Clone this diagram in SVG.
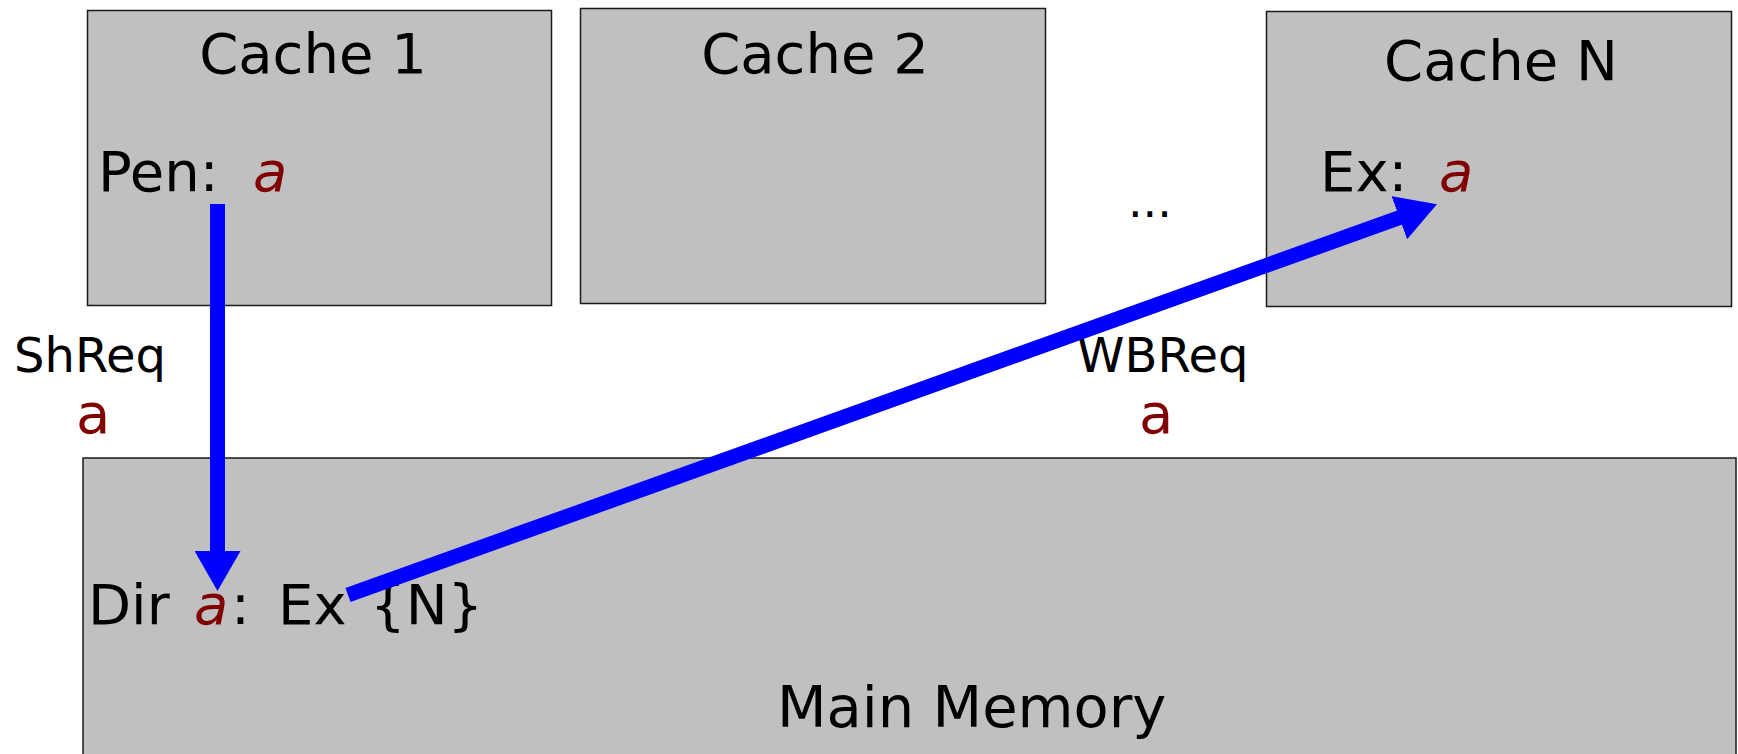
<svg xmlns="http://www.w3.org/2000/svg" width="1738" height="754" viewBox="0 0 1738 754">
<style>
.box{fill:#c0c0c0;stroke:#1a1a1a;stroke-width:1.5}
.t{font-family:"DejaVu Sans",sans-serif;fill:#000}
.big{font-size:56px}
.lbl{font-size:48px}
.red{fill:#800000}
.it{font-style:italic}
.conn{stroke:#0000ff;stroke-width:15;fill:none}
</style>
<defs>
<marker id="ah" markerUnits="userSpaceOnUse" markerWidth="40" markerHeight="46" viewBox="0 0 40 46" refX="5" refY="23" orient="auto">
<path d="M0,0 L40,23 L0,46 Z" fill="#0000ff"/>
</marker>
</defs>
<rect width="1738" height="754" fill="#ffffff"/>
<g id="cache1">
<rect class="box" x="87.5" y="10.5" width="464" height="295"/>
<text class="t big" x="313" y="73" text-anchor="middle">Cache 1</text>
<text class="t big" x="98" y="191">Pen:</text>
<text class="t big red it" x="253" y="191">a</text>
</g>
<g id="cache2">
<rect class="box" x="580.5" y="8.5" width="465" height="295"/>
<text class="t big" x="815" y="73" text-anchor="middle">Cache 2</text>
</g>
<g id="cacheN">
<rect class="box" x="1266.5" y="11.5" width="465" height="295"/>
<text class="t big" x="1501" y="80" text-anchor="middle">Cache N</text>
<text class="t big" x="1320" y="191">Ex:</text>
<text class="t big red it" x="1439" y="191">a</text>
</g>
<g id="dots">
<text class="t" style="font-size:46px" x="1128" y="217">...</text>
</g>
<g id="memory">
<rect class="box" x="83" y="458" width="1653" height="310"/>
<text class="t big" x="88" y="624">Dir</text>
<text class="t big red it" x="194" y="624">a</text>
<text class="t big" x="231" y="624">:</text>
<text class="t big" x="278" y="624">Ex</text>
<text class="t big" x="370" y="624">{N}</text>
<text class="t" style="font-size:57.5px" x="777" y="727">Main Memory</text>
</g>
<g id="labels">
<text class="t lbl" x="14" y="372">ShReq</text>
<text class="t big red" x="76" y="433">a</text>
<text class="t lbl" x="1077" y="372">WBReq</text>
<text class="t big red" x="1139" y="433">a</text>
</g>
<g id="connectors">
<line class="conn" x1="217.5" y1="204" x2="217.5" y2="556" marker-end="url(#ah)"/>
<line class="conn" x1="348" y1="595" x2="1404" y2="216" marker-end="url(#ah)"/>
</g>
</svg>
